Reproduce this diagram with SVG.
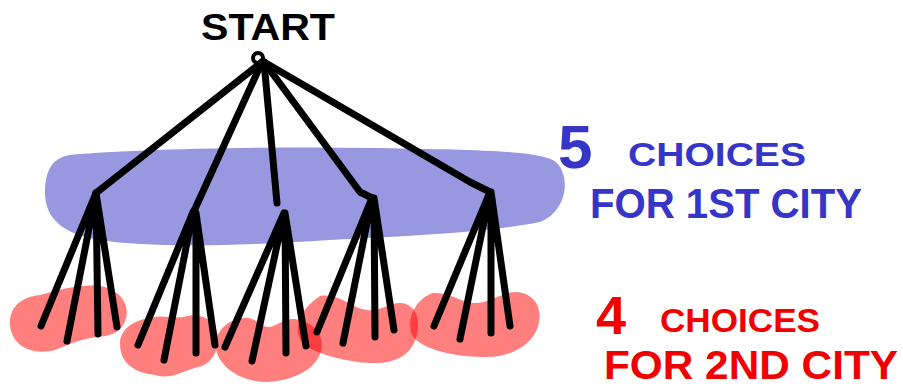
<svg xmlns="http://www.w3.org/2000/svg" width="903" height="391" viewBox="0 0 903 391">
<style>
.e{stroke:#000;stroke-width:7;stroke-linecap:round;stroke-linejoin:round;fill:none}
.r{fill:#ff0000;fill-opacity:0.5}
.t{font-family:"Liberation Sans",Arial,sans-serif;font-weight:bold}
.b{fill:#3535c8}
.rd{fill:#f00000}
</style>
<rect width="903" height="391" fill="#fff"/>
<g id="blue-band">
<path d="M70,155 C120,150 250,146 380,148 C470,150 540,150 556,162 C572,178 566,212 540,222 C480,234 400,236 330,240 C240,246 150,248 100,240 C60,234 44,216 45,190 C46,170 52,158 70,155 Z" fill="#9898e0"/>
</g>
<g id="red-blobs">
<path class="r" d="M40,295 C60,290 80,284 100,286 C120,289 130,305 126,318 C122,333 110,336 97,337 C80,339 70,344 55,350 C30,356 12,345 10,325 C9,308 20,297 40,295 Z"/>
<path class="r" d="M150,318 C165,314 175,320 187,316 C205,312 220,325 218,342 C216,360 205,366 195,368 C180,372 170,380 155,375 C130,372 120,360 120,344 C120,328 135,320 150,318 Z"/>
<path class="r" d="M243,318 C255,316 262,328 270,327 C280,324 285,318 295,319 C312,322 322,332 322,345 C321,365 300,380 267,382 C240,382 218,366 216,348 C215,330 228,320 243,318 Z"/>
<path class="r" d="M320,296 C340,293 350,308 367,310 C380,312 390,302 402,303 C418,306 420,322 417,334 C412,356 395,364 370,363 C350,362 320,356 305,345 C292,334 296,312 320,296 Z"/>
<path class="r" d="M433,293 C450,292 460,302 473,303 C490,304 500,292 517,292 C535,294 542,308 539,322 C535,345 510,357 487,357 C460,357 428,352 414,338 C405,326 412,300 433,293 Z"/>
</g>
<g id="connectors">
<path class="e" d="M262,62 L96,193"/>
<path class="e" d="M262,62 L194,211"/>
<path class="e" d="M264,62 L277,203"/>
<path class="e" d="M264,62 L360,192 L372,198"/>
<path class="e" d="M264,62 L470,182 L490,192"/>
<path class="e" d="M96,193 L41,326 M96,193 L67,341 M96,193 L98,334 M96,193 L117,327"/>
<path class="e" d="M193,212 L138,345 M193,212 L164,360 M196,213 L196,353 M196,213 L215,345"/>
<path class="e" d="M284,213 L225,347 M284,213 L252,361 M285,213 L286,353 M285,213 L306,346"/>
<path class="e" d="M372,198 L317,332 M372,198 L343,343 M374,198 L375,337 M374,198 L394,330"/>
<path class="e" d="M490,192 L434,326 M490,192 L460,339 M491,192 L491,333 M491,192 L510,326"/>
</g>
<g id="start">
<circle cx="258" cy="58" r="5" fill="none" stroke="#000" stroke-width="4"/>
<text class="t" x="201" y="40" font-size="36" textLength="134" lengthAdjust="spacingAndGlyphs">START</text>
</g>
<g id="label-first">
<text class="t b" x="558" y="168" font-size="62">5</text>
<text class="t b" x="628" y="166" font-size="34" textLength="178" lengthAdjust="spacingAndGlyphs">CHOICES</text>
<text class="t b" x="590" y="218" font-size="42" textLength="272" lengthAdjust="spacingAndGlyphs">FOR 1ST CITY</text>
</g>
<g id="label-second">
<text class="t rd" x="596" y="334" font-size="54">4</text>
<text class="t rd" x="660" y="332" font-size="34" textLength="160" lengthAdjust="spacingAndGlyphs">CHOICES</text>
<text class="t rd" x="604" y="379" font-size="40" textLength="294" lengthAdjust="spacingAndGlyphs">FOR 2ND CITY</text>
</g>
</svg>
